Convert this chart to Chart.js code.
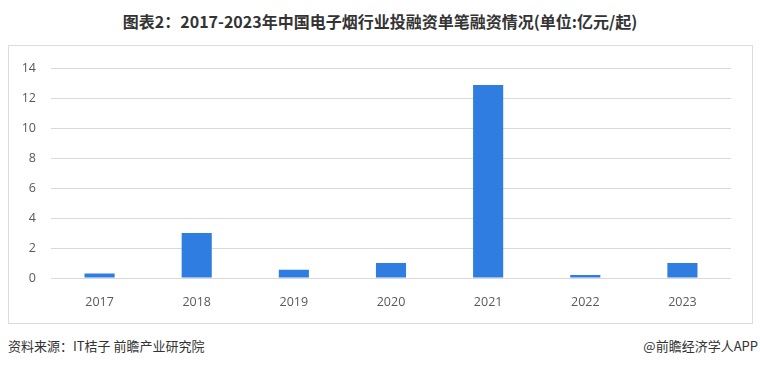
<!DOCTYPE html>
<html>
<head>
<meta charset="utf-8">
<script src="https://cdn.jsdelivr.net/npm/chart.js@4"></script>
<style>
  html, body { margin: 0; padding: 0; background: #fff; }
  #page { position: relative; width: 760px; height: 366px; overflow: hidden; font-family: 'Noto Sans CJK SC', sans-serif; }
  #title { position: absolute; left: 0; top: 9px; width: 760px; text-align: center; font-size: 16px; font-weight: bold; color: #333; }
  #box { position: absolute; left: 8px; top: 45px; width: 743px; height: 277px; border: 1px solid #dcdcdc; }
  #box canvas { position: absolute; left: 0; top: 0; }
  #src { position: absolute; left: 8px; top: 336px; font-size: 13px; color: #333; }
  #app { position: absolute; right: 2px; top: 336px; font-size: 13px; color: #333; }
</style>
</head>
<body>
<div id="page">
  <div id="title">图表2：2017-2023年中国电子烟行业投融资单笔融资情况(单位:亿元/起)</div>
  <div id="box"><canvas id="c" width="743" height="277"></canvas></div>
  <div id="src">资料来源：IT桔子 前瞻产业研究院</div>
  <div id="app">@前瞻经济学人APP</div>
</div>
<script>
// ── Data ──────────────────────────────────────────────────────────────────────
const years  = ['2017', '2018', '2019', '2020', '2021', '2022', '2023'];
const amount = [0.3, 3, 0.55, 1, 12.9, 0.2, 1];
const yTicks = [0, 2, 4, 6, 8, 10, 12, 14];

const GRID = '#d9d9d9';
const TICK = '#595959';
const FONT = { family: "'Open Sans', sans-serif", size: 12.5 };

new Chart(document.getElementById('c'), {
    type: 'bar',
    data: {
        labels: years,
        datasets: [{
            data: amount,
            backgroundColor: '#2f7de1',
            categoryPercentage: 1,
            barPercentage: 0.31,
        }]
    },
    options: {
        responsive: false, animation: false,
        layout: { padding: { top: 18, right: 21, left: 0, bottom: 0 } },
        plugins: { legend: { display: false }, tooltip: { enabled: false } },
        scales: {
            x: {
                grid: { display: false }, border: { display: false },
                ticks: { color: TICK, padding: 9, font: FONT },
                afterFit: s => { s.height = 45; }
            },
            y: {
                min: 0, max: 14,
                afterBuildTicks: s => { s.ticks = yTicks.map(v => ({ value: v })); },
                grid: { color: GRID, drawTicks: false }, border: { display: false },
                ticks: { color: TICK, padding: 15, font: FONT },
                afterFit: s => { s.width = 42; }
            }
        }
    }
});
</script>
</body>
</html>
